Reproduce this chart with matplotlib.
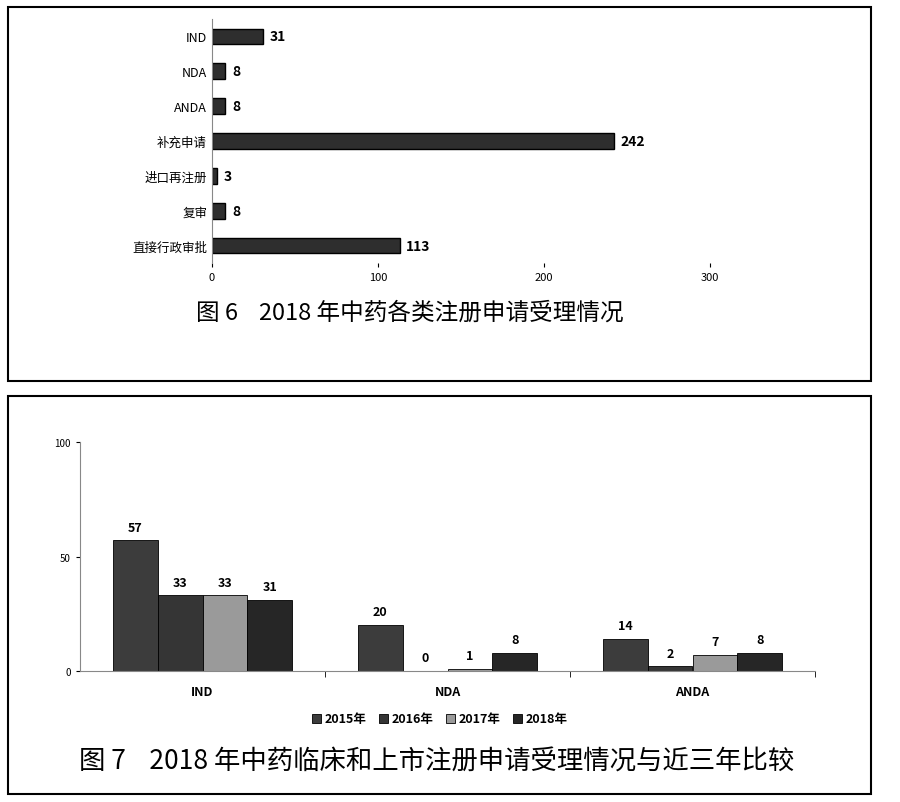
import numpy as np
import matplotlib.pyplot as plt
from matplotlib.patches import Rectangle

plt.rcParams['font.family'] = ['Noto Sans CJK SC', 'DejaVu Sans']

# 图6 data
cats6 = ['IND', 'NDA', 'ANDA', '补充申请', '进口再注册', '复审', '直接行政审批']
vals6 = [31, 8, 8, 242, 3, 8, 113]

# 图7 data
groups7 = ['IND', 'NDA', 'ANDA']
years7 = ['2015年', '2016年', '2017年', '2018年']
vals7 = {
    '2015年': [57, 20, 14],
    '2016年': [33, 0, 2],
    '2017年': [33, 1, 7],
    '2018年': [31, 8, 8],
}
colors7 = ['#3c3c3c', '#353535', '#9a9a9a', '#262626']

fig = plt.figure(figsize=(9, 8.03), dpi=100)

# frames
fig.add_artist(Rectangle((8/900, 1-382/803), 863/900, 374/803, transform=fig.transFigure,
                         fill=False, lw=1.5, ec='black'))
fig.add_artist(Rectangle((8/900, 1-795/803), 863/900, 398/803, transform=fig.transFigure,
                         fill=False, lw=1.5, ec='black'))

# top chart
ax1 = fig.add_axes([212/900, 1-264/803, 498/900, 244/803])
y = np.arange(len(cats6))
ax1.barh(y, vals6, height=0.45, color='#2e2e2e', edgecolor='black')
for yi, v in zip(y, vals6):
    ax1.text(v + 4, yi, str(v), va='center', ha='left', fontsize=10, fontweight='bold')
ax1.set_yticks(y)
ax1.set_yticklabels(cats6, fontsize=9)
ax1.set_ylim(len(cats6) - 0.5, -0.5)
ax1.set_xlim(0, 300)
ax1.set_xticks([0, 100, 200, 300])
ax1.tick_params(axis='x', labelsize=8, length=3)
ax1.tick_params(axis='y', length=0)
for s in ['top', 'right', 'bottom']:
    ax1.spines[s].set_visible(False)
ax1.spines['left'].set_color('#888888')
fig.text(410/900, 1-313/803, '图 6    2018 年中药各类注册申请受理情况', ha='center', va='center',
         fontsize=17)

# bottom chart
ax2 = fig.add_axes([80/900, 1-672/803, 735/900, 229/803])
x = np.arange(len(groups7))
w = 0.183
for i, (yr, c) in enumerate(zip(years7, colors7)):
    vs = vals7[yr]
    xs = x + (i - 1.5) * w
    ax2.bar(xs, vs, width=w, color=c, edgecolor='black', lw=0.6, label=yr)
    for xi, v in zip(xs, vs):
        ax2.text(xi, v + 3, str(v), ha='center', va='bottom', fontsize=9, fontweight='bold')
ax2.set_xlim(-0.5, 2.5)
ax2.set_ylim(0, 100)
ax2.set_yticks([0, 50, 100])
ax2.tick_params(axis='y', labelsize=7, length=3)
ax2.set_xticks(x)
ax2.set_xticklabels(groups7, fontsize=9, fontweight='bold')
ax2.set_xticks([0.5, 1.5, 2.5], minor=True)
ax2.tick_params(axis='x', which='major', length=0, pad=10)
ax2.tick_params(axis='x', which='minor', length=4)
for s in ['top', 'right']:
    ax2.spines[s].set_visible(False)
ax2.spines['left'].set_color('#888888')
ax2.spines['bottom'].set_color('#888888')
ax2.legend(loc='center', bbox_to_anchor=(440/900, 1-720/803), bbox_transform=fig.transFigure,
           ncol=4, frameon=False, handlelength=0.7, handleheight=0.7,
           columnspacing=1.0, handletextpad=0.3, prop={'weight': 'bold', 'size': 9})
fig.text(437/900, 1-762/803, '图 7    2018 年中药临床和上市注册申请受理情况与近三年比较', ha='center',
         va='center', fontsize=19)

fig.savefig('out.png', dpi=100)
